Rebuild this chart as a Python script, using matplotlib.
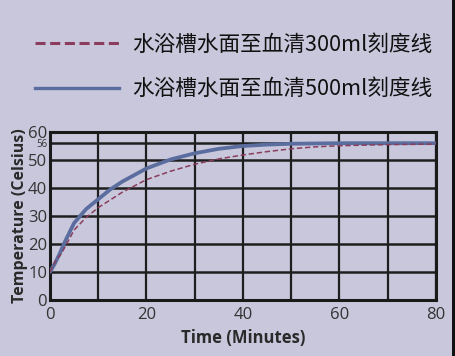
import matplotlib
matplotlib.use("Agg")
import matplotlib.pyplot as plt
from matplotlib.lines import Line2D
from matplotlib.patches import Rectangle

plt.rcParams['font.family'] = ['Open Sans', 'Noto Sans CJK SC', 'DejaVu Sans']

# Data
time_300 = [0, 1, 2.5, 5, 7.5, 10, 15, 20, 25, 30, 35, 40, 45, 50, 55, 60, 70, 80]
temp_300 = [10, 13.5, 17, 25, 29.5, 33, 38.5, 43, 46, 48.5, 50.4, 51.8, 53, 54, 54.7, 55.1, 55.5, 55.7]
time_500 = [0, 1, 2, 3, 4, 5, 7.5, 10, 12.5, 15, 20, 25, 30, 35, 40, 45, 50, 60, 70, 80]
temp_500 = [10, 13, 16.5, 20.5, 24, 27.5, 32.5, 36, 39.5, 42.3, 47, 50.2, 52.4, 54, 55, 55.5, 55.8, 56, 56, 56]
label_300 = "水浴槽水面至血清300ml刻度线"
label_500 = "水浴槽水面至血清500ml刻度线"
xticks = [0, 20, 40, 60, 80]
yticks = [0, 10, 20, 30, 40, 50, 56, 60]
xgrid = [0, 10, 20, 30, 40, 50, 60, 70, 80]

bg = "#c9c7dc"
red = "#8a3d5c"
blue = "#5a6d9e"
gridc = "#1e1e1e"

fig = plt.figure(figsize=(4.56, 3.56), dpi=100, facecolor=bg)
ax = fig.add_axes([50/456, 56/356, 386/456, 168/356], facecolor=bg)

ax.set_xlim(0, 80)
ax.set_ylim(0, 60)
ax.set_xticks(xticks)
ax.set_yticks(yticks)
ax.set_yticklabels([str(v) for v in yticks])
for lab, v in zip(ax.get_yticklabels(), yticks):
    lab.set_fontsize(7 if v == 56 else 12)
ax.tick_params(axis='both', which='both', length=0, colors='#333333')
ax.tick_params(axis='x', labelsize=12, pad=5)
ax.tick_params(axis='y', pad=2)
ax.vlines(xgrid, 0, 60, colors=gridc, lw=1.6, zorder=1)
ax.hlines(yticks, 0, 80, colors=gridc, lw=1.8, zorder=1)
for s in ax.spines.values():
    s.set_color('#1a1a1a')
    s.set_linewidth(2.2)

ax.plot(time_500, temp_500, color=blue, lw=2.7, solid_capstyle='round', zorder=3)
ax.plot(time_300, temp_300, color=red, lw=1.1, dashes=(3.5, 1.8), zorder=4)

ax.set_xlabel("Time (Minutes)", fontsize=12, fontweight='bold', color='#2a2a2a', labelpad=4)
ax.set_ylabel("Temperature (Celsius)", fontsize=11.5, fontweight='bold', color='#2a2a2a', labelpad=0)

handles = [Line2D([], [], color=red, lw=2.2, dashes=(3.3, 1.5)),
           Line2D([], [], color=blue, lw=2.4)]
fig.legend(handles, [label_300, label_500], loc='upper left',
           bbox_to_anchor=(26/456, 1 - 25/356), frameon=False,
           prop={'family': ['Noto Sans CJK SC', 'DejaVu Sans'], 'size': 15.6, 'weight': 'medium'},
           handlelength=3.9, handletextpad=0.6, labelspacing=1.05, borderaxespad=0,
           labelcolor='#111111')

fig.add_artist(Rectangle((452/456, 0), 4/456, 1, transform=fig.transFigure,
                         color='#111111', lw=0))

fig.savefig("out.png", dpi=100, facecolor=bg)
